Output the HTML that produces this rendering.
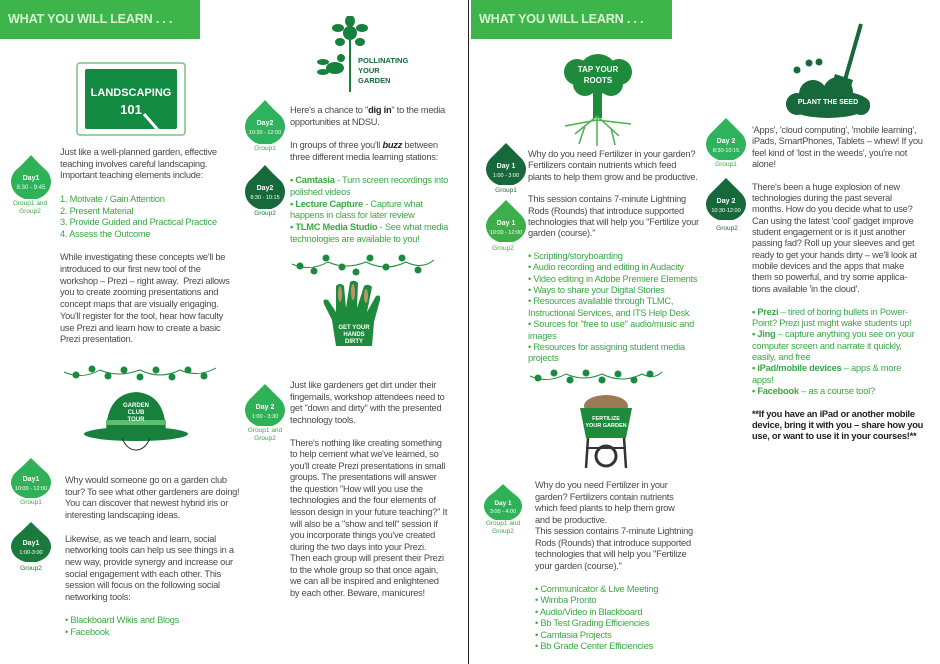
<!DOCTYPE html>
<html><head><meta charset="utf-8">
<style>
body{margin:0;width:940px;height:664px;background:#fff;position:relative;overflow:hidden;font-family:"Liberation Sans",sans-serif}
.t{position:absolute;font-size:9.3px;line-height:11.7px;color:#4a4a4a;letter-spacing:-0.25px;white-space:nowrap}
.g{color:#3aa845}
.b{font-weight:bold}
.hdr{position:absolute;top:0;height:39px;background:#3db54a;color:#d9f2d6;font-weight:bold;font-size:12.6px;letter-spacing:-0.2px;line-height:38px;padding-left:8px;box-sizing:border-box;white-space:nowrap;overflow:hidden}
.drop{position:absolute}
.lbl{position:absolute;font-size:6.5px;color:#3aa845;text-align:center;line-height:8px;width:44px}
.lbl.d{color:#1d6e3a}
</style></head><body>
<div class="hdr" style="left:0;width:200px">WHAT YOU WILL LEARN . . .</div>
<div class="hdr" style="left:471px;width:201px">WHAT YOU WILL LEARN . . .</div>
<div style="position:absolute;left:468px;top:0;width:1px;height:664px;background:#222"></div>

<svg style="position:absolute;left:76px;top:62px" width="112" height="76">
<rect x="1" y="1" width="108" height="72" rx="3" fill="#fff" stroke="#7bbf83" stroke-width="1.5"/>
<rect x="9" y="7" width="92" height="60" rx="2" fill="#138a41"/>
<text x="55" y="34" text-anchor="middle" fill="#fff" font-size="11" font-family="Liberation Sans" font-weight="bold">LANDSCAPING</text>
<text x="55" y="52" text-anchor="middle" fill="#fff" font-size="13" font-family="Liberation Sans" font-weight="bold">101</text>
<line x1="68" y1="52" x2="82" y2="68" stroke="#fff" stroke-width="3"/>
</svg>

<svg class="drop" style="left:9px;top:155px" width="44" height="44"><path d="M22 0 Q30 9 38 16 A20 18 0 1 1 6 16 Q14 9 22 0Z" fill="#2fb257"/><text x="22" y="25" text-anchor="middle" fill="#fff" font-size="7" font-weight="bold" font-family="Liberation Sans">Day1</text><text x="22" y="34" text-anchor="middle" fill="#dff" font-size="6" font-family="Liberation Sans">8:30 - 9:45</text></svg>
<div class="lbl" style="left:8px;top:200px">Group1 and<br>Group2</div>

<svg class="drop" style="left:9px;top:458px" width="44" height="40"><path d="M22 0 Q30 8 38 15 A20 16 0 1 1 6 15 Q14 8 22 0Z" fill="#2fb257"/><text x="22" y="23" text-anchor="middle" fill="#fff" font-size="7" font-weight="bold" font-family="Liberation Sans">Day1</text><text x="22" y="32" text-anchor="middle" fill="#fff" font-size="5.5" font-family="Liberation Sans">10:00 - 12:00</text></svg>
<div class="lbl" style="left:9px;top:499px">Group1</div>

<svg class="drop" style="left:9px;top:522px" width="44" height="40"><path d="M22 0 Q30 8 38 15 A20 16 0 1 1 6 15 Q14 8 22 0Z" fill="#1a7a3e"/><text x="22" y="23" text-anchor="middle" fill="#fff" font-size="7" font-weight="bold" font-family="Liberation Sans">Day1</text><text x="22" y="32" text-anchor="middle" fill="#fff" font-size="5.5" font-family="Liberation Sans">1:00-3:00</text></svg>
<div class="lbl d" style="left:9px;top:565px">Group2</div>

<svg class="drop" style="left:243px;top:100px" width="44" height="44"><path d="M22 0 Q30 9 38 16 A20 18 0 1 1 6 16 Q14 9 22 0Z" fill="#2fb25e"/><text x="22" y="25" text-anchor="middle" fill="#fff" font-size="7" font-weight="bold" font-family="Liberation Sans">Day2</text><text x="22" y="34" text-anchor="middle" fill="#fff" font-size="5.5" font-family="Liberation Sans">10:30 - 12:00</text></svg>
<div class="lbl" style="left:243px;top:145px">Group1</div>

<svg class="drop" style="left:243px;top:165px" width="44" height="44"><path d="M22 0 Q30 9 38 16 A20 18 0 1 1 6 16 Q14 9 22 0Z" fill="#17683a"/><text x="22" y="25" text-anchor="middle" fill="#fff" font-size="7" font-weight="bold" font-family="Liberation Sans">Day2</text><text x="22" y="34" text-anchor="middle" fill="#fff" font-size="5.5" font-family="Liberation Sans">8:30 - 10:15</text></svg>
<div class="lbl d" style="left:243px;top:210px">Group2</div>

<svg class="drop" style="left:243px;top:384px" width="44" height="42"><path d="M22 0 Q30 8 38 16 A20 17 0 1 1 6 16 Q14 8 22 0Z" fill="#2fb257"/><text x="22" y="25" text-anchor="middle" fill="#fff" font-size="7" font-weight="bold" font-family="Liberation Sans">Day 2</text><text x="22" y="34" text-anchor="middle" fill="#fff" font-size="5.5" font-family="Liberation Sans">1:00 - 3:30</text></svg>
<div class="lbl" style="left:243px;top:427px">Group1 and<br>Group2</div>

<svg class="drop" style="left:484px;top:143px" width="44" height="42"><path d="M22 0 Q30 8 38 16 A20 17 0 1 1 6 16 Q14 8 22 0Z" fill="#17683a"/><text x="22" y="25" text-anchor="middle" fill="#fff" font-size="7" font-weight="bold" font-family="Liberation Sans">Day 1</text><text x="22" y="34" text-anchor="middle" fill="#fff" font-size="5.5" font-family="Liberation Sans">1:00 - 3:00</text></svg>
<div class="lbl d" style="left:484px;top:187px">Group1</div>

<svg class="drop" style="left:484px;top:200px" width="44" height="42"><path d="M22 0 Q30 8 38 16 A20 17 0 1 1 6 16 Q14 8 22 0Z" fill="#3cae4a"/><text x="22" y="25" text-anchor="middle" fill="#fff" font-size="7" font-weight="bold" font-family="Liberation Sans">Day 1</text><text x="22" y="34" text-anchor="middle" fill="#fff" font-size="5.5" font-family="Liberation Sans">10:00 - 12:00</text></svg>
<div class="lbl" style="left:481px;top:245px">Group2</div>

<svg class="drop" style="left:482px;top:484px" width="42" height="36"><path d="M21 0 Q28 7 36 13 A19 15 0 1 1 6 13 Q14 7 21 0Z" fill="#2fb257"/><text x="21" y="21" text-anchor="middle" fill="#fff" font-size="6.5" font-weight="bold" font-family="Liberation Sans">Day 1</text><text x="21" y="29" text-anchor="middle" fill="#fff" font-size="5.5" font-family="Liberation Sans">3:00 - 4:00</text></svg>
<div class="lbl" style="left:481px;top:520px">Group1 and<br>Group2</div>

<svg class="drop" style="left:704px;top:118px" width="44" height="42"><path d="M22 0 Q30 8 38 16 A20 17 0 1 1 6 16 Q14 8 22 0Z" fill="#2fb25e"/><text x="22" y="25" text-anchor="middle" fill="#fff" font-size="7" font-weight="bold" font-family="Liberation Sans">Day 2</text><text x="22" y="34" text-anchor="middle" fill="#fff" font-size="5.5" font-family="Liberation Sans">8:30-10:15</text></svg>
<div class="lbl" style="left:704px;top:161px">Group1</div>

<svg class="drop" style="left:704px;top:178px" width="44" height="42"><path d="M22 0 Q30 8 38 16 A20 17 0 1 1 6 16 Q14 8 22 0Z" fill="#17683a"/><text x="22" y="25" text-anchor="middle" fill="#fff" font-size="7" font-weight="bold" font-family="Liberation Sans">Day 2</text><text x="22" y="34" text-anchor="middle" fill="#fff" font-size="5.5" font-family="Liberation Sans">10:30-12:00</text></svg>
<div class="lbl d" style="left:705px;top:225px">Group2</div>

<svg style="position:absolute;left:315px;top:16px" width="100" height="78">
<g fill="#17803d"><circle cx="35" cy="17" r="7"/><ellipse cx="35" cy="5" rx="5" ry="6"/><ellipse cx="47" cy="12" rx="6" ry="4"/><ellipse cx="23" cy="12" rx="6" ry="4"/><ellipse cx="45" cy="26" rx="5" ry="4"/><ellipse cx="25" cy="26" rx="5" ry="4"/>
<rect x="34" y="24" width="2" height="52"/><ellipse cx="20" cy="52" rx="9" ry="6"/><ellipse cx="8" cy="46" rx="6" ry="3"/><ellipse cx="8" cy="56" rx="6" ry="3"/><circle cx="26" cy="42" r="4"/></g>
<text x="43" y="47" fill="#17683a" font-size="7.5" font-weight="bold" font-family="Liberation Sans">POLLINATING</text>
<text x="43" y="57" fill="#17683a" font-size="7.5" font-weight="bold" font-family="Liberation Sans">YOUR</text>
<text x="43" y="67" fill="#17683a" font-size="7.5" font-weight="bold" font-family="Liberation Sans">GARDEN</text>
</svg>

<svg style="position:absolute;left:62px;top:362px" width="156" height="22"><path d="M2 10 Q20 18 38 8 Q56 16 78 8 Q98 18 118 8 Q136 16 154 6" stroke="#1a8a3e" fill="none"/><g fill="#1a8a3e"><circle cx="14" cy="13" r="3.5"/><circle cx="30" cy="7" r="3.5"/><circle cx="46" cy="14" r="3.5"/><circle cx="62" cy="8" r="3.5"/><circle cx="78" cy="15" r="3.5"/><circle cx="94" cy="8" r="3.5"/><circle cx="110" cy="15" r="3.5"/><circle cx="126" cy="8" r="3.5"/><circle cx="142" cy="14" r="3.5"/></g></svg>
<svg style="position:absolute;left:290px;top:252px" width="146" height="26"><path d="M2 12 Q20 20 38 10 Q56 18 76 10 Q96 20 116 10 Q132 18 144 8" stroke="#1a8a3e" fill="none"/><g fill="#1a8a3e"><circle cx="10" cy="14" r="3.5"/><circle cx="24" cy="19" r="3.5"/><circle cx="36" cy="6" r="3.5"/><circle cx="52" cy="15" r="3.5"/><circle cx="66" cy="20" r="3.5"/><circle cx="80" cy="6" r="3.5"/><circle cx="96" cy="15" r="3.5"/><circle cx="112" cy="6" r="3.5"/><circle cx="128" cy="18" r="3.5"/></g></svg>
<svg style="position:absolute;left:528px;top:366px" width="136" height="22"><path d="M2 10 Q20 18 38 8 Q56 16 74 8 Q94 18 114 8 Q126 14 134 6" stroke="#1a8a3e" fill="none"/><g fill="#1a8a3e"><circle cx="10" cy="12" r="3.5"/><circle cx="26" cy="7" r="3.5"/><circle cx="42" cy="14" r="3.5"/><circle cx="58" cy="7" r="3.5"/><circle cx="74" cy="14" r="3.5"/><circle cx="90" cy="8" r="3.5"/><circle cx="106" cy="14" r="3.5"/><circle cx="122" cy="8" r="3.5"/></g></svg>

<svg style="position:absolute;left:318px;top:280px" width="76" height="68">
<path d="M18 66 L14 40 L6 24 Q4 18 10 20 L18 32 L18 6 Q22 2 26 6 L28 28 L32 2 Q36 -1 40 3 L39 28 L46 6 Q50 3 54 7 L49 32 L58 16 Q63 14 62 20 L56 42 L54 66Z" fill="#1e8a3c"/>
<g fill="#b8956a"><ellipse cx="22" cy="14" rx="2" ry="8"/><ellipse cx="35" cy="12" rx="2" ry="8"/><ellipse cx="48" cy="16" rx="2" ry="7"/></g>
<text x="36" y="49" text-anchor="middle" fill="#fff" font-size="6" font-weight="bold" font-family="Liberation Sans">GET YOUR</text>
<text x="36" y="56" text-anchor="middle" fill="#fff" font-size="6" font-weight="bold" font-family="Liberation Sans">HANDS</text>
<text x="36" y="63" text-anchor="middle" fill="#fff" font-size="6" font-weight="bold" font-family="Liberation Sans">DIRTY</text>
</svg>

<svg style="position:absolute;left:82px;top:388px" width="108" height="66">
<ellipse cx="54" cy="46" rx="52" ry="7" fill="#17803d"/><path d="M24 46 Q24 6 54 4 Q84 6 84 46Z" fill="#17803d"/><rect x="24" y="32" width="60" height="5" fill="#5cbf6a"/>
<path d="M40 50 Q45 62 54 62 Q63 62 68 50" stroke="#333" fill="none"/>
<text x="54" y="19" text-anchor="middle" fill="#fff" font-size="6" font-weight="bold" font-family="Liberation Sans">GARDEN</text>
<text x="54" y="26" text-anchor="middle" fill="#fff" font-size="6" font-weight="bold" font-family="Liberation Sans">CLUB</text>
<text x="54" y="33" text-anchor="middle" fill="#fff" font-size="6" font-weight="bold" font-family="Liberation Sans">TOUR</text>
</svg>

<svg style="position:absolute;left:555px;top:50px" width="86" height="98">
<g fill="#1e8a3c"><circle cx="43" cy="24" r="20"/><circle cx="22" cy="22" r="13"/><circle cx="64" cy="22" r="13"/><circle cx="30" cy="34" r="12"/><circle cx="56" cy="34" r="12"/><rect x="38" y="40" width="9" height="28"/></g>
<path d="M42 66 L20 84 M42 66 L64 86 M42 66 L42 96 M42 70 L10 76 M42 70 L76 74 M30 76 L24 94 M56 78 L60 95" stroke="#4caf50" stroke-width="1.5" fill="none"/>
<text x="43" y="22" text-anchor="middle" fill="#fff" font-size="8" font-weight="bold" font-family="Liberation Sans">TAP YOUR</text>
<text x="43" y="33" text-anchor="middle" fill="#fff" font-size="8" font-weight="bold" font-family="Liberation Sans">ROOTS</text>
</svg>

<svg style="position:absolute;left:576px;top:392px" width="60" height="80">
<ellipse cx="30" cy="14" rx="22" ry="11" fill="#9b7a55"/><path d="M4 16 L56 16 L50 46 L10 46Z" fill="#1e8a3c"/>
<text x="30" y="28" text-anchor="middle" fill="#fff" font-size="5.5" font-weight="bold" font-family="Liberation Sans">FERTILIZE</text>
<text x="30" y="35" text-anchor="middle" fill="#fff" font-size="5.5" font-weight="bold" font-family="Liberation Sans">YOUR GARDEN</text>
<g stroke="#333" stroke-width="2.5" fill="none"><line x1="12" y1="46" x2="10" y2="76"/><line x1="48" y1="46" x2="50" y2="76"/></g><circle cx="30" cy="64" r="10" fill="none" stroke="#333" stroke-width="3"/><line x1="10" y1="56" x2="50" y2="56" stroke="#333" stroke-width="2"/>
</svg>

<svg style="position:absolute;left:783px;top:20px" width="90" height="98">
<line x1="78" y1="4" x2="62" y2="60" stroke="#17683a" stroke-width="4"/><path d="M52 54 L70 60 L64 80 L46 74Z" fill="#17683a"/>
<g fill="#17683a"><circle cx="14" cy="50" r="3.5"/><circle cx="26" cy="43" r="3.5"/><circle cx="36" cy="42" r="3.5"/><ellipse cx="45" cy="84" rx="42" ry="14"/><circle cx="30" cy="74" r="14"/><circle cx="55" cy="72" r="15"/><circle cx="14" cy="84" r="11"/><circle cx="78" cy="86" r="9"/></g>
<text x="45" y="84" text-anchor="middle" fill="#fff" font-size="7" font-weight="bold" font-family="Liberation Sans">PLANT THE SEED</text>
</svg>

<div class="t" style="left:60px;top:147px">Just like a well-planned garden, effective<br>teaching involves careful landscaping.<br>Important teaching elements include:<br><br><span class="g">1. Motivate / Gain Attention<br>2. Present Material<br>3. Provide Guided and Practical Practice<br>4. Assess the Outcome</span><br><br>While investigating these concepts we'll be<br>introduced to our first new tool of the<br>workshop – Prezi – right away.&nbsp; Prezi allows<br>you to create zooming presentations and<br>concept maps that are visually engaging.<br>You'll register for the tool, hear how faculty<br>use Prezi and learn how to create a basic<br>Prezi presentation.</div>

<div class="t" style="left:65px;top:475px">Why would someone go on a garden club<br>tour? To see what other gardeners are doing!<br>You can discover that newest hybrid iris or<br>interesting landscaping ideas.<br><br>Likewise, as we teach and learn, social<br>networking tools can help us see things in a<br>new way, provide synergy and increase our<br>social engagement with each other. This<br>session will focus on the following social<br>networking tools:<br><br><span class="g">• Blackboard Wikis and Blogs<br>• Facebook</span></div>

<div class="t" style="left:290px;top:105px">Here's a chance to "<b style="color:#222">dig in</b>" to the media<br>opportunities at NDSU.<br><br>In groups of three you'll <b style="color:#222"><i>buzz</i></b> between<br>three different media learning stations:<br><br><span class="g"><b>• Camtasia</b> - Turn screen recordings into<br>polished videos<br><b>• Lecture Capture</b> - Capture what<br>happens in class for later review<br><b>• TLMC Media Studio</b> - See what media<br>technologies are available to you!</span></div>

<div class="t" style="left:290px;top:380px;line-height:11.55px">Just like gardeners get dirt under their<br>fingernails, workshop attendees need to<br>get "down and dirty" with the presented<br>technology tools.<br><br>There's nothing like creating something<br>to help cement what we've learned, so<br>you'll create Prezi presentations in small<br>groups. The presentations will answer<br>the question "How will you use the<br>technologies and the four elements of<br>lesson design in your future teaching?" It<br>will also be a "show and tell" session if<br>you incorporate things you've created<br>during the two days into your Prezi.<br>Then each group will present their Prezi<br>to the whole group so that once again,<br>we can all be inspired and enlightened<br>by each other. Beware, manicures!</div>

<div class="t" style="left:528px;top:149px;line-height:11.35px">Why do you need Fertilizer in your garden?<br>Fertilizers contain nutrients which feed<br>plants to help them grow and be productive.<br><br>This session contains 7-minute Lightning<br>Rods (Rounds) that introduce supported<br>technologies that will help you "Fertilize your<br>garden (course)."<br><br><span class="g">• Scripting/storyboarding<br>• Audio recording and editing in Audacity<br>• Video editing in Adobe Premiere Elements<br>• Ways to share your Digital Stories<br>• Resources available through TLMC,<br>Instructional Services, and ITS Help Desk<br>• Sources for "free to use" audio/music and<br>images<br>• Resources for assigning student media<br>projects</span></div>

<div class="t" style="left:535px;top:480px;line-height:11.5px">Why do you need Fertilizer in your<br>garden? Fertilizers contain nutrients<br>which feed plants to help them grow<br>and be productive.<br>This session contains 7-minute Lightning<br>Rods (Rounds) that introduce supported<br>technologies that will help you "Fertilize<br>your garden (course)."<br><br><span class="g">• Communicator &amp; Live Meeting<br>• Wimba Pronto<br>• Audio/Video in Blackboard<br>• Bb Test Grading Efficiencies<br>• Camtasia Projects<br>• Bb Grade Center Efficiencies</span></div>

<div class="t" style="left:752px;top:125px;line-height:11.35px">'Apps', 'cloud computing', 'mobile learning',<br>iPads, SmartPhones, Tablets – whew! If you<br>feel kind of 'lost in the weeds', you're not<br>alone!<br><br>There's been a huge explosion of new<br>technologies during the past several<br>months. How do you decide what to use?<br>Can using the latest 'cool' gadget improve<br>student engagement or is it just another<br>passing fad? Roll up your sleeves and get<br>ready to get your hands dirty – we'll look at<br>mobile devices and the apps that make<br>them so powerful, and try some applica-<br>tions available 'in the cloud'.<br><br><span class="g"><b>• Prezi</b> – tired of boring bullets in Power-<br>Point? Prezi just might wake students up!<br><b>• Jing</b> – capture anything you see on your<br>computer screen and narrate it quickly,<br>easily, and free<br><b>• iPad/mobile devices</b> – apps &amp; more<br>apps!<br><b>• Facebook</b> – as a course tool?</span><br><br><b style="color:#222">**If you have an iPad or another mobile<br>device, bring it with you – share how you<br>use, or want to use it in your courses!**</b></div>
</body></html>
